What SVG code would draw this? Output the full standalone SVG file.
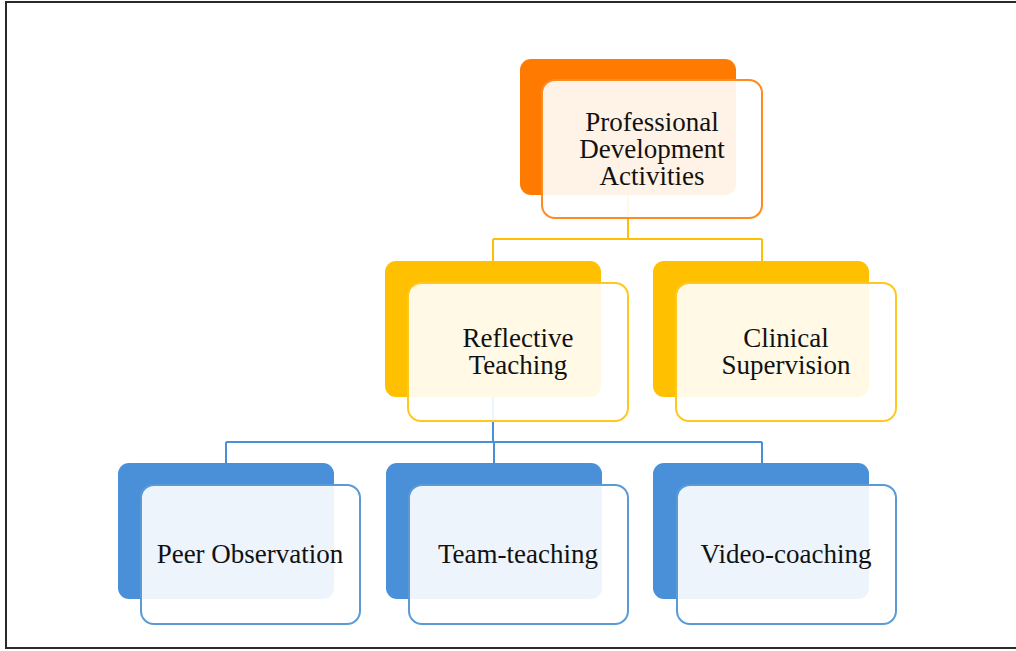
<svg xmlns="http://www.w3.org/2000/svg" width="1016" height="651" viewBox="0 0 1016 651">
<style>
.txt{font-family:"Liberation Serif","Times New Roman",serif;font-size:27px;fill:#111;text-anchor:middle}
.front{fill:#ffffff;fill-opacity:0.9;stroke-width:2}
.o .back{fill:#ff7a00}.o .front{stroke:#ff8a1f}
.y .back{fill:#ffc000}.y .front{stroke:#ffc71f}
.b .back{fill:#4a90d9}.b .front{stroke:#5b9bd5}
.conn{fill:none;stroke-width:2}
</style>
<rect x="6" y="2" width="1020" height="646" fill="#fff" stroke="#2a2a2a" stroke-width="2"/>
<g id="connectors">
<path class="conn" stroke="#ffc000" d="M628 195V239M493 239H762M493 239V261M762 239V261"/>
<path class="conn" stroke="#4a90d9" d="M493 396V442M226 442H762M226 442V463M494 442V463M762 442V463"/>
</g>
<g id="n-pda" class="o">
<rect class="back" x="520" y="59" width="216" height="136" rx="11"/>
<rect class="front" x="542" y="80" width="220" height="138" rx="13"/>
<text class="txt" x="652" y="131">Professional</text>
<text class="txt" x="652" y="158">Development</text>
<text class="txt" x="652" y="185">Activities</text>
</g>
<g id="n-reflective" class="y">
<rect class="back" x="385" y="261" width="216" height="136" rx="11"/>
<rect class="front" x="408" y="283" width="220" height="138" rx="13"/>
<text class="txt" x="518" y="347">Reflective</text>
<text class="txt" x="518" y="374">Teaching</text>
</g>
<g id="n-clinical" class="y">
<rect class="back" x="653" y="261" width="216" height="136" rx="11"/>
<rect class="front" x="676" y="283" width="220" height="138" rx="13"/>
<text class="txt" x="786" y="347">Clinical</text>
<text class="txt" x="786" y="374">Supervision</text>
</g>
<g id="n-peer" class="b">
<rect class="back" x="118" y="463" width="216" height="136" rx="11"/>
<rect class="front" x="141" y="485" width="219" height="139" rx="13"/>
<text class="txt" x="250" y="563">Peer Observation</text>
</g>
<g id="n-team" class="b">
<rect class="back" x="386" y="463" width="216" height="136" rx="11"/>
<rect class="front" x="409" y="485" width="219" height="139" rx="13"/>
<text class="txt" x="518" y="563">Team-teaching</text>
</g>
<g id="n-video" class="b">
<rect class="back" x="653" y="463" width="216" height="136" rx="11"/>
<rect class="front" x="677" y="485" width="219" height="139" rx="13"/>
<text class="txt" x="786" y="563">Video-coaching</text>
</g>
</svg>
